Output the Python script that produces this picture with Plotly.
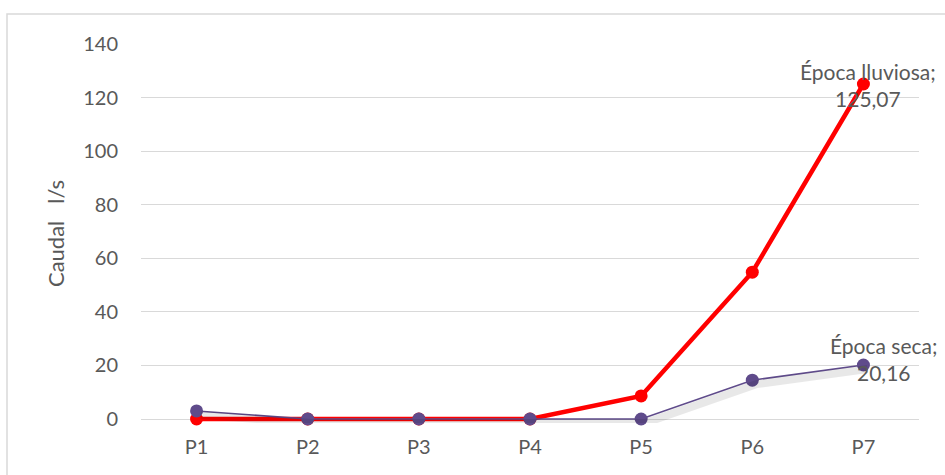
import plotly.graph_objects as go

# Puntos de muestreo y caudales medidos (l/s)
puntos = ["P1", "P2", "P3", "P4", "P5", "P6", "P7"]
epoca_lluviosa = [0, 0, 0, 0, 8.6, 54.8, 125.07]
epoca_seca = [3.0, 0, 0, 0, 0, 14.5, 20.16]
y_ticks = [0, 20, 40, 60, 80, 100, 120, 140]

FONT = "Lato, 'Open Sans', sans-serif"
GRAY = "#595959"
PURPLE = "#5f4b8b"
RED = "#ff0000"

W, H = 945, 475
L, R, T = 141, 26, 44
Y0_PX = 419          # posición vertical del valor 0
PAD = 4              # margen inferior del área para no recortar las líneas en 0
B = H - Y0_PX - PAD
pw, ph = W - L - R, H - T - B
px_per_unit = (Y0_PX - T) / 140
y_min = -PAD / px_per_unit

fig = go.Figure()

shift_x = 4 / (pw / 7)
shift_y = 4 / px_per_unit

# Sombra suave de la serie seca (eje desplazado unos píxeles)
fig.add_trace(go.Scatter(
    x=puntos, y=epoca_seca, mode="lines",
    line=dict(color="rgba(0,0,0,0.09)", width=8),
    xaxis="x2", yaxis="y2", hoverinfo="skip", showlegend=False,
))

fig.add_trace(go.Scatter(
    x=puntos, y=epoca_lluviosa, mode="lines+markers", name="Época lluviosa",
    line=dict(color=RED, width=4.5),
    marker=dict(size=13, color=RED),
    showlegend=False, cliponaxis=False,
))
fig.add_trace(go.Scatter(
    x=puntos, y=epoca_seca, mode="lines+markers", name="Época seca",
    line=dict(color=PURPLE, width=1.6),
    marker=dict(size=13, color=PURPLE),
    showlegend=False, cliponaxis=False,
))

# Etiquetas de datos en el último punto
fig.add_annotation(
    x=puntos[-1], y=epoca_lluviosa[-1],
    text=f"Época lluviosa;<br>{epoca_lluviosa[-1]:.2f}".replace(".", ","),
    showarrow=False, xanchor="center", yanchor="middle",
    xshift=5, yshift=-1, align="center",
    font=dict(family=FONT, size=21, color=GRAY),
)
fig.add_annotation(
    x=puntos[-1], y=epoca_seca[-1],
    text=f"Época seca;<br>{epoca_seca[-1]:.2f}".replace(".", ","),
    showarrow=False, xanchor="center", yanchor="middle",
    xshift=21, yshift=6, align="center",
    font=dict(family=FONT, size=21, color=GRAY),
)

# Borde del área del gráfico
fig.add_shape(
    type="rect", xref="paper", yref="paper",
    x0=(7 - L) / pw, x1=(W + 5 - L) / pw,
    y0=-(B + 5) / ph, y1=1 + (T - 14) / ph,
    line=dict(color="#d9d9d9", width=1.5), layer="below",
)

fig.update_layout(
    width=W, height=H,
    margin=dict(l=L, r=R, t=T, b=B),
    paper_bgcolor="white", plot_bgcolor="white",
    font=dict(family=FONT, color=GRAY),
    xaxis=dict(
        type="category", range=[-0.5, 6.5], showgrid=False,
        showline=False, zeroline=False, ticks="",
        ticklabelstandoff=10,
        tickfont=dict(size=20, color=GRAY),
    ),
    yaxis=dict(
        range=[y_min, 140], tickvals=y_ticks,
        showgrid=True, gridcolor="#d9d9d9", gridwidth=1.3,
        zeroline=False, showline=False, ticks="",
        ticklabelstandoff=22,
        tickfont=dict(size=20, color=GRAY),
        title=dict(text="Caudal   l/s", font=dict(size=22, color=GRAY), standoff=12),
    ),
    xaxis2=dict(
        type="category", range=[-0.5 - shift_x, 6.5 - shift_x],
        overlaying="x", visible=False,
    ),
    yaxis2=dict(
        range=[y_min + shift_y, 140 + shift_y], overlaying="y", visible=False,
    ),
)

fig.write_html("out.html")
